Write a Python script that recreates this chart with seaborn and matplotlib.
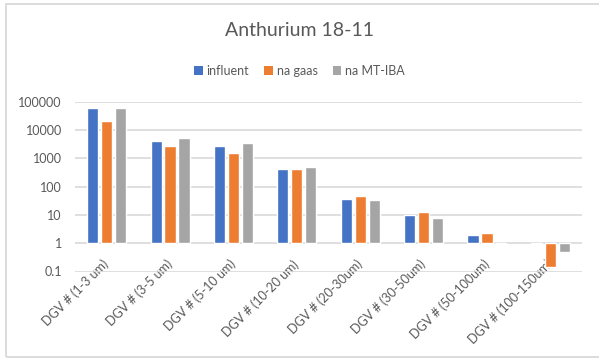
# -*- coding: utf-8 -*-
"""Anthurium 18-11: DGV-aantallen per deeltjesgrootte, log-as vanaf 1 (Excel-stijl)."""

import matplotlib
matplotlib.use("Agg")
import matplotlib.pyplot as plt
import numpy as np
import pandas as pd
import seaborn as sns
from matplotlib.patches import Patch, Rectangle
from matplotlib.ticker import NullLocator

# ---- data ----
categories = [
    "DGV # (1-3 um)", "DGV # (3-5 um)", "DGV # (5-10 um)", "DGV # (10-20 um)",
    "DGV # (20-30um)", "DGV # (30-50um)", "DGV # (50-100um)", "DGV # (100-150um)",
]
series_names = ["influent", "na gaas", "na MT-IBA"]
influent = [58000, 4000, 2700, 420, 36, 10, 1.95, 0.9]
na_gaas = [21000, 2700, 1550, 420, 46, 12.3, 2.35, 0.14]
na_mtiba = [58000, 5200, 3500, 480, 33, 8, 0.9, 0.5]
ytick_values = [0.1, 1, 10, 100, 1000, 10000, 100000]
ytick_labels = ["0.1", "1", "10", "100", "1000", "10000", "100000"]

colors = ["#4472C4", "#ED7D31", "#A5A5A5"]
text_color = "#595959"
grid_color = "#D9D9D9"

sns.set_style("white")
plt.rcParams["font.family"] = ["Lato", "DejaVu Sans"]

df = pd.DataFrame({
    "categorie": categories * 3,
    "reeks": np.repeat(series_names, len(categories)),
    "waarde": influent + na_gaas + na_mtiba,
})

W, H = 599, 361
fig = plt.figure(figsize=(W / 100, H / 100), dpi=100)
ax = fig.add_axes([75 / W, 1 - 271.5 / H, (582 - 75) / W, (271.5 - 101.7) / H])

sns.barplot(data=df, x="categorie", y="waarde", hue="reeks", palette=colors,
            width=0.66, gap=0.2, errorbar=None, saturation=1, legend=False,
            ax=ax)

# Excel laat de staven op een log-as vanaf 1 beginnen
for container in ax.containers:
    for bar in container:
        h = bar.get_height()
        bar.set_y(1)
        bar.set_height(h - 1)

ax.set_yscale("log")
ax.set_ylim(0.1, 100000)
ax.set_yticks(ytick_values, labels=ytick_labels)
ax.yaxis.set_minor_locator(NullLocator())
ax.set_xlim(-0.5, len(categories) - 0.5)
ax.set_xlabel("")
ax.set_ylabel("")

ax.grid(axis="y", color=grid_color, linewidth=1.2, zorder=0)
ax.set_axisbelow(True)
for s in ax.spines.values():
    s.set_visible(False)

ax.tick_params(axis="y", length=0, pad=9.5, labelsize=9, labelcolor=text_color)
ax.tick_params(axis="x", length=0, pad=-6.8, labelsize=9, labelcolor=text_color)
for lab in ax.get_xticklabels():
    lab.set_rotation(45)
    lab.set_ha("right")
    lab.set_va("center")
    lab.set_rotation_mode("anchor")

fig.text(0.5, 1 - 31 / H, "Anthurium 18-11", ha="center", va="center",
         fontsize=14, color=text_color)

handles = [Patch(facecolor=c, edgecolor="none") for c in colors]
fig.legend(handles, series_names, loc="center", bbox_to_anchor=(0.5, 1 - 71 / H),
           ncol=3, frameon=False, fontsize=9, labelcolor=text_color,
           handlelength=0.7, handleheight=0.7, handletextpad=0.3,
           columnspacing=1.2)

# kader van het grafiekgebied
fig.patches.append(Rectangle((6 / W, 1 - 357 / H), 1.0, (357 - 4) / H,
                             transform=fig.transFigure, fill=False,
                             edgecolor=grid_color, linewidth=1.3))

fig.savefig("out.png", dpi=100)
